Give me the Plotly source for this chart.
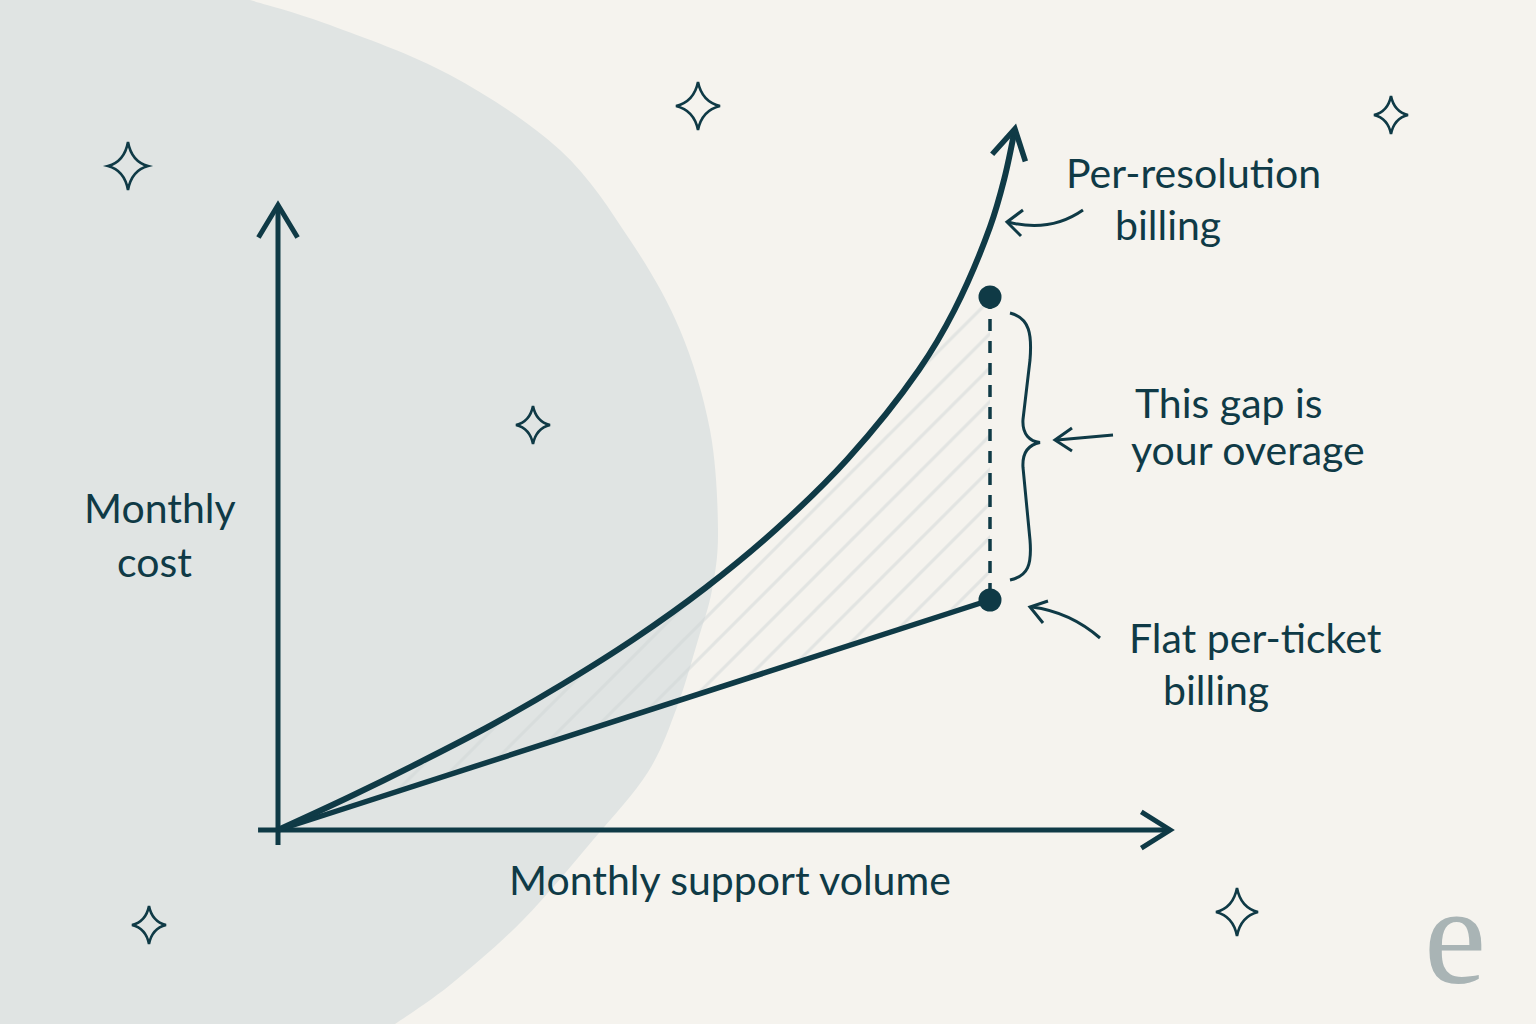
import math
import plotly.graph_objects as go

# ---------------- data ----------------
volume = [0, 1, 2, 3, 4, 5, 6, 7, 8, 9, 9.5, 10, 10.2, 10.35]
per_resolution_cost = [0, 3.3, 6.8, 10.5, 14.6, 19.1, 24.2, 30.1, 37.1, 46.0, 52.0, 60.3, 65.1, 70.1]
flat_volume = [0, 10.0]
flat_cost = [0, 23.0]
gap_volume = 10.0
gap_costs = [53.3, 23.0]          # per-resolution marker, flat marker
axis_x_extent = [-0.28, 12.53]
axis_y_extent = [-1.5, 62.5]

x_title = "Monthly support volume"
y_title = ["Monthly", "cost"]
per_res_label = ["Per-resolution", "billing"]
gap_label = ["This gap is", "your overage"]
flat_label = ["Flat per-ticket", "billing"]
logo_text = "e"

# ---------------- style / layout ----------------
W, H = 1536, 1024
X0, SX = 278, 71.2      # pixel of volume 0, pixels per unit
Y0, SY = 830, 10.0      # pixel of cost 0, pixels per unit
XR = [-X0 / SX, (W - X0) / SX]
YR = [-(H - Y0) / SY, Y0 / SY]

INK = "#0f3a46"
BG = "#f5f3ee"
BLOB = "#e0e4e3"
HATCH = "#cfd6d6"
FONT = "Lato"


def to_px(x, y):
    return X0 + SX * x, Y0 - SY * y


def to_data(px, py):
    return (px - X0) / SX, (Y0 - py) / SY


def chevron(tip_d, from_d, length=36, ang=31):
    tx, ty = to_px(*tip_d)
    fx, fy = to_px(*from_d)
    ux, uy = tx - fx, ty - fy
    n = math.hypot(ux, uy)
    ux, uy = ux / n, uy / n
    pts = []
    for s in (1, -1):
        a = math.radians(ang * s)
        rx = ux * math.cos(a) - uy * math.sin(a)
        ry = ux * math.sin(a) + uy * math.cos(a)
        pts.append(to_data(tx - length * rx, ty - length * ry))
    xs = [pts[0][0], tip_d[0], pts[1][0]]
    ys = [pts[0][1], tip_d[1], pts[1][1]]
    return xs, ys


fig = go.Figure()

# hatched overage region (flat line -> marker -> back along curve)
top = gap_costs[0]
cut_x, cut_i = None, None
for i in range(1, len(volume)):
    if per_resolution_cost[i] >= top:
        c0, c1 = per_resolution_cost[i - 1], per_resolution_cost[i]
        v0, v1 = volume[i - 1], volume[i]
        cut_x = v0 + (top - c0) / (c1 - c0) * (v1 - v0)
        cut_i = i
        break
poly_x = [0, gap_volume, gap_volume, cut_x] + volume[:cut_i][::-1]
poly_y = [0, gap_costs[1], top, top] + per_resolution_cost[:cut_i][::-1]
fig.add_trace(go.Scatter(
    x=poly_x, y=poly_y, mode="lines", fill="toself",
    fillcolor="rgba(0,0,0,0)", line=dict(width=0),
    fillpattern=dict(shape="/", fgcolor=HATCH, bgcolor="rgba(0,0,0,0)",
                     size=24, solidity=0.13),
    hoverinfo="skip", showlegend=False))

# axes drawn as arrows
fig.add_trace(go.Scatter(x=[0, 0], y=axis_y_extent, mode="lines",
                         line=dict(color=INK, width=5), hoverinfo="skip", showlegend=False))
fig.add_trace(go.Scatter(x=axis_x_extent, y=[0, 0], mode="lines",
                         line=dict(color=INK, width=5), hoverinfo="skip", showlegend=False))
cx, cy = chevron((0, axis_y_extent[1]), (0, 0), 38, 31)
fig.add_trace(go.Scatter(x=cx, y=cy, mode="lines", line=dict(color=INK, width=5),
                         hoverinfo="skip", showlegend=False))
cx, cy = chevron((axis_x_extent[1], 0), (0, 0), 34, 32)
fig.add_trace(go.Scatter(x=cx, y=cy, mode="lines", line=dict(color=INK, width=5),
                         hoverinfo="skip", showlegend=False))

# flat per-ticket line
fig.add_trace(go.Scatter(x=flat_volume, y=flat_cost, mode="lines",
                         line=dict(color=INK, width=5.5), hoverinfo="skip", showlegend=False))
# per-resolution curve
fig.add_trace(go.Scatter(x=volume, y=per_resolution_cost, mode="lines",
                         line=dict(color=INK, width=6, shape="spline", smoothing=1.0),
                         hoverinfo="skip", showlegend=False))
cx, cy = chevron((volume[-1], per_resolution_cost[-1]), (volume[-2], per_resolution_cost[-2]), 34, 30)
fig.add_trace(go.Scatter(x=cx, y=cy, mode="lines", line=dict(color=INK, width=5.5),
                         hoverinfo="skip", showlegend=False))

# dashed gap line and markers
fig.add_trace(go.Scatter(x=[gap_volume, gap_volume], y=gap_costs, mode="lines",
                         line=dict(color=INK, width=3.5, dash="12px,10px"),
                         hoverinfo="skip", showlegend=False))
fig.add_trace(go.Scatter(x=[gap_volume, gap_volume], y=gap_costs, mode="markers",
                         marker=dict(color=INK, size=23), hoverinfo="skip", showlegend=False))

# dummy trace to activate pixel overlay axes
fig.add_trace(go.Scatter(x=[0], y=[0], xaxis="x2", yaxis="y2", mode="markers",
                         marker=dict(opacity=0), hoverinfo="skip", showlegend=False))

shapes = []


def catmull(points):
    d = ""
    pts = [points[0]] + points + [points[-1]]
    for i in range(1, len(pts) - 2):
        p0, p1, p2, p3 = pts[i - 1], pts[i], pts[i + 1], pts[i + 2]
        c1 = (p1[0] + (p2[0] - p0[0]) / 6, p1[1] + (p2[1] - p0[1]) / 6)
        c2 = (p2[0] - (p3[0] - p1[0]) / 6, p2[1] - (p3[1] - p1[1]) / 6)
        d += f" C {c1[0]:.1f},{c1[1]:.1f} {c2[0]:.1f},{c2[1]:.1f} {p2[0]:.1f},{p2[1]:.1f}"
    return d


blob_pts = [(250, 0), (330, 25), (450, 75), (560, 150), (630, 240), (680, 330),
            (710, 430), (718, 530), (712, 590), (698, 640), (677, 707), (648, 772),
            (593, 840), (523, 920), (450, 985), (395, 1024)]
blob_path = "M 0,0 L 250,0" + catmull(blob_pts) + " L 0,1024 Z"
shapes.append(dict(type="path", path=blob_path, xref="x2", yref="y2",
                   fillcolor=BLOB, line=dict(width=0), layer="below"))

# sparkles
for (sx, sy, rx, ry) in [(128, 166, 20, 24), (698, 106, 22, 24), (1391, 115, 17, 19),
                         (533, 425, 17, 19), (149, 925, 17, 19), (1237, 912, 21, 24)]:
    kx, ky = rx * 0.18, ry * 0.18
    p = (f"M {sx},{sy-ry} Q {sx+kx},{sy-ky} {sx+rx},{sy} Q {sx+kx},{sy+ky} {sx},{sy+ry} "
         f"Q {sx-kx},{sy+ky} {sx-rx},{sy} Q {sx-kx},{sy-ky} {sx},{sy-ry} Z")
    shapes.append(dict(type="path", path=p, xref="x2", yref="y2",
                       fillcolor="rgba(0,0,0,0)", line=dict(color=INK, width=2.6)))

# brace beside the gap
tpx, tpy = to_px(gap_volume, gap_costs[0])
bpx, bpy = to_px(gap_volume, gap_costs[1])
t, b = tpy + 16, bpy - 20
m = (t + b) / 2 - 4
bx = tpx + 20
brace = (f"M {bx},{t} C {bx+20},{t+5} {bx+22},{t+22} {bx+20},{t+47} "
         f"L {bx+13},{m-23} C {bx+12},{m-8} {bx+20},{m-1} {bx+30},{m} "
         f"C {bx+20},{m+2} {bx+12},{m+9} {bx+13},{m+25} "
         f"L {bx+20},{b-40} C {bx+22},{b-15} {bx+18},{b-4} {bx},{b}")
shapes.append(dict(type="path", path=brace, xref="x2", yref="y2",
                   fillcolor="rgba(0,0,0,0)", line=dict(color=INK, width=3)))

# pointer arrows
pointers = [
    ("M 1083,210 Q 1050,233 1008,222", (1007, 222), (1023, 210), (1021, 236)),
    ("M 1113,435 L 1057,440", (1055, 440), (1072, 428), (1072, 451)),
    ("M 1100,638 Q 1070,612 1032,607", (1030, 607), (1048, 601), (1043, 623)),
]
for path, tip, b1, b2 in pointers:
    shapes.append(dict(type="path", path=path, xref="x2", yref="y2",
                       fillcolor="rgba(0,0,0,0)", line=dict(color=INK, width=3)))
    shapes.append(dict(type="path",
                       path=f"M {b1[0]},{b1[1]} L {tip[0]},{tip[1]} L {b2[0]},{b2[1]}",
                       xref="x2", yref="y2", fillcolor="rgba(0,0,0,0)",
                       line=dict(color=INK, width=3)))

annotations = []


def label(text, x, y, size=41, color=INK, family=FONT, anchor="center"):
    annotations.append(dict(text=text, x=x, y=y, xref="x2", yref="y2",
                            xanchor=anchor, yanchor="middle", showarrow=False,
                            font=dict(family=family, size=size, color=color)))


label(per_res_label[0], 1193, 172)
label(per_res_label[1], 1168, 224)
label(gap_label[0], 1229, 402)
label(gap_label[1], 1248, 449)
label(flat_label[0], 1255, 637)
label(flat_label[1], 1216, 689)
label(y_title[0], 160, 507)
label(y_title[1], 154, 561)
label(x_title, 730, 879)
label(logo_text, 1455, 935, size=140, color="#a9b4b5", family="Liberation Serif")

fig.update_layout(
    width=W, height=H, autosize=False,
    margin=dict(l=0, r=0, t=0, b=0),
    paper_bgcolor=BG, plot_bgcolor="rgba(0,0,0,0)",
    showlegend=False,
    xaxis=dict(range=XR, visible=False, fixedrange=True),
    yaxis=dict(range=YR, visible=False, fixedrange=True),
    xaxis2=dict(range=[0, W], overlaying="x", visible=False, fixedrange=True),
    yaxis2=dict(range=[H, 0], overlaying="y", visible=False, fixedrange=True),
    shapes=shapes, annotations=annotations,
)

fig.write_html("out.html", config=dict(displayModeBar=False))
